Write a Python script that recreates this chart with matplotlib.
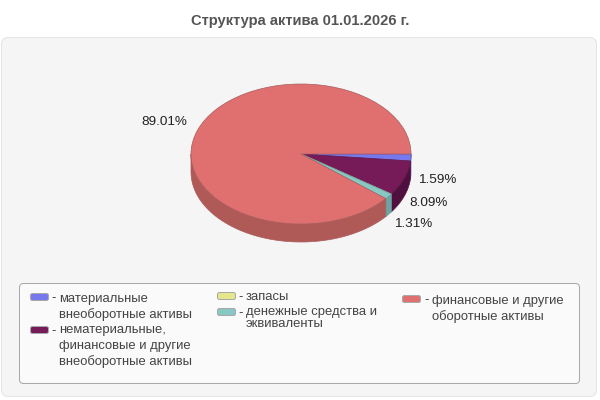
import matplotlib

matplotlib.use("Agg")
import matplotlib.pyplot as plt
import numpy as np
from matplotlib.patches import FancyBboxPatch, Polygon

plt.rcParams["font.family"] = ["Liberation Sans", "DejaVu Sans"]

title = "Структура актива 01.01.2026 г."
values = [1.59, 8.09, 0.0, 1.31, 89.01]
value_labels = ["1.59%", "8.09%", "", "1.31%", "89.01%"]
legend_labels = [
    "материальные\nвнеоборотные активы",
    "нематериальные,\nфинансовые и другие\nвнеоборотные активы",
    "запасы",
    "денежные средства и\nэквиваленты",
    "финансовые и другие\nоборотные активы",
]
colors = ["#7878ee", "#761b58", "#e6e68c", "#88c8c4", "#e07070"]
side_colors = ["#6060d8", "#4f1040", "#b8b870", "#6da5a3", "#b05a58"]
edge_colors = ["#6060c0", "#5e1646", "#b8b870", "#6da09d", "#a85a5a"]

# pixel geometry of the pie
cx, cy = 301, 154
rx, ry = 110, 70
depth = 18

# where the percent labels sit (pixels)
label_pos = [(437, 180), (429, 203), None, (413, 224), (164, 122)]
# legend layout: swatch x, swatch y, text x, text y, line spacing
legend_pos = [
    (30, 293, 59, 299, 15.7),
    (30, 326, 59, 330, 15.8),
    (217, 292, 246, 297, 12),
    (217, 308, 246, 312, 12),
    (402, 295, 432, 301, 16),
]

fig = plt.figure(figsize=(6, 4), dpi=100, facecolor="white")

# background axes in pixels
bg = fig.add_axes([0, 0, 1, 1])
bg.set_xlim(0, 600)
bg.set_ylim(400, 0)
bg.axis("off")

bg.add_patch(
    FancyBboxPatch(
        (1.5, 37.5), 595, 359, boxstyle="round,pad=0,rounding_size=7",
        fc="#f5f5f5", ec="#e4e4e4", lw=0.72,
    )
)
bg.add_patch(
    FancyBboxPatch(
        (19.5, 283.5), 560, 100, boxstyle="round,pad=0,rounding_size=4",
        fc="#fafafa", ec="#a8a8a8", lw=0.72,
    )
)
bg.text(300, 21, title, ha="center", va="center", fontsize=10.6,
        fontweight="bold", color="#555555")

for lab, (sx, sy, tx, ty, step), col in zip(legend_labels, legend_pos, colors):
    bg.add_patch(
        FancyBboxPatch(
            (sx + 0.5, sy + 0.5), 18, 7, boxstyle="round,pad=0,rounding_size=2",
            fc=col, ec="#a8a8a8", lw=0.72,
        )
    )
    bg.text(tx - 7.5, sy + 5, "-", ha="left", va="center", fontsize=9.4, color="#333333")
    for i, line in enumerate(lab.split("\n")):
        bg.text(tx, ty + i * step, line, ha="left", va="center", fontsize=9.4,
                color="#444444")

for lab, pos in zip(value_labels, label_pos):
    if pos is not None:
        bg.text(pos[0], pos[1], lab, ha="center", va="center", fontsize=9.7,
                color="#222222")

# pie axes, unit circle stretched to the ellipse
ax = fig.add_axes([0, 0, 1, 1])
ax.patch.set_alpha(0)

# side wall, only the front half is visible
h = depth / ry
ends = np.cumsum(values) / np.sum(values) * 180 * 2
starts = np.r_[0, ends[:-1]]
for a0, a1, col, ecol in zip(starts, ends, side_colors, edge_colors):
    a1 = min(a1, 180)
    if a1 <= a0:
        continue
    t = np.radians(np.linspace(a0, a1, 80))
    top = np.c_[np.cos(t), -np.sin(t)]
    low = top[::-1] - [0, h]
    ax.add_patch(Polygon(np.r_[top, low], closed=True, fc=col, ec=ecol, lw=0.5))

wedges, _ = ax.pie(
    values, colors=colors, startangle=0, counterclock=False, radius=1,
    wedgeprops={"lw": 0.5},
)
for w, ecol in zip(wedges, edge_colors):
    w.set_edgecolor(ecol)

ax.set_aspect("auto")
ax.set_xlim(-cx / rx, (600 - cx) / rx)
ax.set_ylim((cy - 400) / ry, cy / ry)
ax.axis("off")

fig.savefig("out.png", dpi=100)
